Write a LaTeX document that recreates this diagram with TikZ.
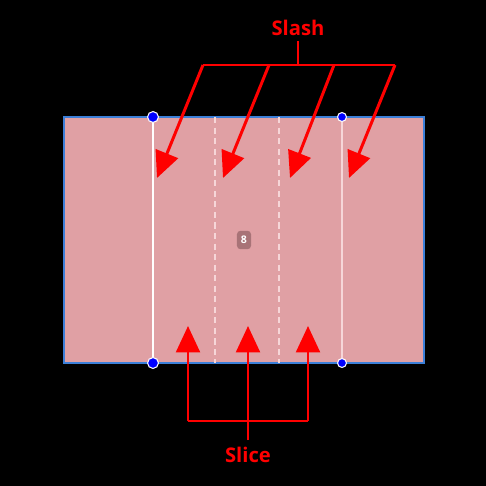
\documentclass[tikz,border=0pt]{standalone}
\usepackage{fontspec}
\setmainfont{Open Sans}
\usetikzlibrary{arrows.meta}
\definecolor{slab}{HTML}{E0A0A4}
\definecolor{edgeblue}{HTML}{3C7FD8}
\definecolor{tagfill}{HTML}{A87377}
\definecolor{cutline}{HTML}{F6D6D8}

\begin{document}
\begin{tikzpicture}[x=0.02cm, y=-0.02cm,
    callout/.style = {draw=red, line width=1.7pt},
    pointer/.style = {callout, -{Triangle[length=15pt, width=13.5pt]}},
    caption/.style = {text=red, font=\bfseries\fontsize{11.5}{13}\selectfont, inner sep=0pt},
    bigdot/.style = {circle, fill=blue, draw=white, line width=0.6pt, minimum size=6.2pt, inner sep=0pt},
    smalldot/.style = {circle, fill=blue, draw=white, line width=0.6pt, minimum size=5.1pt, inner sep=0pt}]
    \fill[black] (0,0) rectangle (486,486);
    \useasboundingbox (0,0) rectangle (486,486);
    % the piece
    \filldraw[fill=slab, draw=edgeblue, line width=0.6pt] (64,117) rectangle (424,363);
    \draw[cutline, line width=0.9pt, dash pattern=on 3.5pt off 2.5pt] (215,117) -- (215,363);
    \draw[cutline, line width=0.9pt, dash pattern=on 3.5pt off 2.5pt] (279,117) -- (279,363);
    \node[bigdot] (t1) at (153,117) {};
    \node[bigdot] (b1) at (153,363) {};
    \node[smalldot] (t2) at (342,117) {};
    \node[smalldot] (b2) at (342,363) {};
    \draw[white, line width=1pt] (t1) -- (b1);
    \draw[cutline, line width=1pt] (t2) -- (b2);
    \node[fill=tagfill, rounded corners=2pt, minimum width=8pt, minimum height=10.5pt, inner sep=1pt,
          text=white, font=\bfseries\fontsize{6}{7}\selectfont] (tag) at (244,240) {8};
    % slash callout
    \node[caption] (slash) at (298,28) {Slash};
    \coordinate (st) at (298,41);
    \coordinate (sj) at (298,65);
    \coordinate (s1) at (203,65);
    \coordinate (s2) at (269,65);
    \coordinate (s3) at (334,65);
    \coordinate (s4) at (395,65);
    \coordinate (e1) at (157,178);
    \coordinate (e2) at (223,178);
    \coordinate (e3) at (290,178);
    \coordinate (e4) at (349,178);
    \draw[callout] (st) -- (sj);
    \draw[callout] (s1) -- (s4);
    \draw[pointer] (s1) -- (e1);
    \draw[pointer] (s2) -- (e2);
    \draw[pointer] (s3) -- (e3);
    \draw[pointer] (s4) -- (e4);
    % slice callout
    \node[caption] (slice) at (248,455) {Slice};
    \coordinate (ct) at (248,440);
    \coordinate (cj) at (248,421);
    \coordinate (c1) at (188,421);
    \coordinate (c3) at (308,421);
    \coordinate (f1) at (188,326);
    \coordinate (f2) at (248,326);
    \coordinate (f3) at (308,326);
    \draw[callout] (ct) -- (cj);
    \draw[callout] (c1) -- (c3);
    \draw[pointer] (c1) -- (f1);
    \draw[pointer] (cj) -- (f2);
    \draw[pointer] (c3) -- (f3);
\end{tikzpicture}
\end{document}
